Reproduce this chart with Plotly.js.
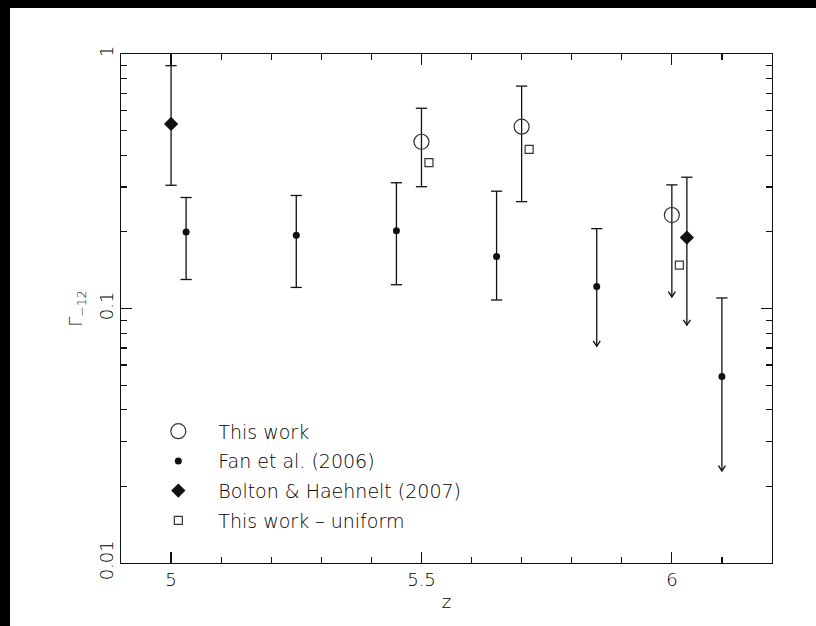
<!DOCTYPE html>
<html><head><meta charset="utf-8">
<script src="https://cdn.plot.ly/plotly-3.0.1.min.js"></script>
<style>
html,body{margin:0;padding:0;background:#fff;width:816px;height:626px;overflow:hidden}
#plot{position:absolute;left:10px;top:8px;width:806px;height:618px;background:#fff}
#barTop{position:absolute;left:0;top:0;width:816px;height:8px;background:#000}
#barLeft{position:absolute;left:0;top:0;width:10px;height:626px;background:#000}
</style></head><body><div id="plot"></div><div id="barTop"></div><div id="barLeft"></div>
<script>
// ---- data ----
const thisZ=[5.5,5.7,6.0];
const thisG=[0.452,0.518,0.233];
const thisUp=[0.612,0.748,0.306];
const thisLo=[0.301,0.263,0.111];
const thisLimit=[false,false,true];

const fanZ=[5.03,5.25,5.45,5.65,5.85,6.10];
const fanG=[0.200,0.194,0.202,0.160,0.122,0.054];
const fanUp=[0.273,0.278,0.312,0.289,0.206,0.110];
const fanLo=[0.130,0.121,0.124,0.108,0.071,0.023];
const fanLimit=[false,false,false,false,true,true];

const boltonZ=[5.0,6.03];
const boltonG=[0.531,0.190];
const boltonUp=[0.90,0.328];
const boltonLo=[0.305,0.086];
const boltonLimit=[false,true];

const uniZ=[5.515,5.715,6.015];
const uniG=[0.374,0.422,0.148];

const seriesNames=['This work','Fan et al. (2006)','Bolton & Haehnelt (2007)','This work \u2013 uniform'];
const xTickVals=[5,5.5,6];
const xTickText=['5','5.5','6'];
const yTickVals=[0.01,0.1,1];
const yTickText=['0.01','0.1','1'];

// ---- styling ----
const INK='#111';
const HEAD_DX=0.007;      // half width of arrow head, in z units
const HEAD_K=1.05;        // arrow head height as a factor on the log axis
const traces=[];

function addErrors(z,g,up,lo,limit){
  traces.push({
    x:z, y:g, type:'scatter', mode:'markers', showlegend:false, hoverinfo:'skip',
    marker:{color:'rgba(0,0,0,0)',size:1},
    error_y:{type:'data',symmetric:false,
      array:g.map((v,i)=>up[i]-v),
      arrayminus:g.map((v,i)=>v-lo[i]),
      width:0,thickness:1.3,color:INK}
  });
  const cx=[],cy=[],ax=[],ay=[];
  z.forEach((zz,i)=>{
    cx.push(zz); cy.push(up[i]);
    if(!limit[i]){cx.push(zz); cy.push(lo[i]);}
    else{
      ax.push(zz-HEAD_DX,zz,zz+HEAD_DX,null);
      ay.push(lo[i]*HEAD_K,lo[i],lo[i]*HEAD_K,null);
    }
  });
  traces.push({x:cx,y:cy,type:'scatter',mode:'markers',showlegend:false,hoverinfo:'skip',
    marker:{symbol:'line-ew',size:8,color:INK,line:{width:1.3,color:INK}}});
  if(ax.length){
    traces.push({x:ax,y:ay,type:'scatter',mode:'lines',showlegend:false,hoverinfo:'skip',
      line:{color:INK,width:1.3}});
  }
}
addErrors(thisZ,thisG,thisUp,thisLo,thisLimit);
addErrors(fanZ,fanG,fanUp,fanLo,fanLimit);
addErrors(boltonZ,boltonG,boltonUp,boltonLo,boltonLimit);

traces.push({x:thisZ,y:thisG,type:'scatter',mode:'markers',name:seriesNames[0],legendgroup:'a',
  marker:{symbol:'circle-open',size:15,color:'#333',line:{width:1.2,color:'#333'}}});
traces.push({x:fanZ,y:fanG,type:'scatter',mode:'markers',name:seriesNames[1],legendgroup:'b',
  marker:{symbol:'circle',size:7,color:INK}});
traces.push({x:boltonZ,y:boltonG,type:'scatter',mode:'markers',name:seriesNames[2],legendgroup:'c',
  marker:{symbol:'diamond',size:11,color:INK}});
traces.push({x:uniZ,y:uniG,type:'scatter',mode:'markers',name:seriesNames[3],legendgroup:'d',
  marker:{symbol:'square-open',size:8,color:'#333',line:{width:1.2,color:'#333'}}});

const axisCommon={showline:true,linecolor:INK,linewidth:1.2,mirror:'allticks',
  ticks:'inside',ticklen:11,tickwidth:1.2,tickcolor:INK,showgrid:false,zeroline:false,
  automargin:false,tickfont:{size:18,color:'#000'}};

const layout={
  width:806,height:618,
  paper_bgcolor:'#fff',plot_bgcolor:'#fff',
  margin:{l:111,r:44,t:46,b:63,pad:0},
  font:{family:'DejaVu Sans, sans-serif',size:18,color:'#000',weight:200},
  showlegend:true,
  legend:{x:0.0266,xanchor:'left',y:0.296,yanchor:'top',bgcolor:'rgba(0,0,0,0)',
    borderwidth:0,itemwidth:70,tracegroupgap:2,font:{size:19,color:'#000'},traceorder:'grouped'},
  xaxis:Object.assign({},axisCommon,{range:[4.9,6.2],tickmode:'array',tickvals:xTickVals,ticktext:xTickText,
    minor:{ticks:'inside',ticklen:6,tick0:5,dtick:0.1,tickwidth:1.2,tickcolor:INK,showgrid:false},
    title:{text:'z',font:{size:18,color:'#000'},standoff:6}}),
  yaxis:Object.assign({},axisCommon,{type:'log',range:[-2,0],tickmode:'array',tickvals:yTickVals,ticktext:yTickText,
    tickangle:-90,
    minor:{ticks:'inside',ticklen:6,dtick:'D1',tickwidth:1.2,tickcolor:INK,showgrid:false},
    title:{text:'\u0393<sub>\u221212</sub>',font:{size:18,color:'#000'},standoff:8}})
};
Plotly.newPlot('plot',traces,layout,{staticPlot:true,displayModeBar:false});
</script></body></html>
